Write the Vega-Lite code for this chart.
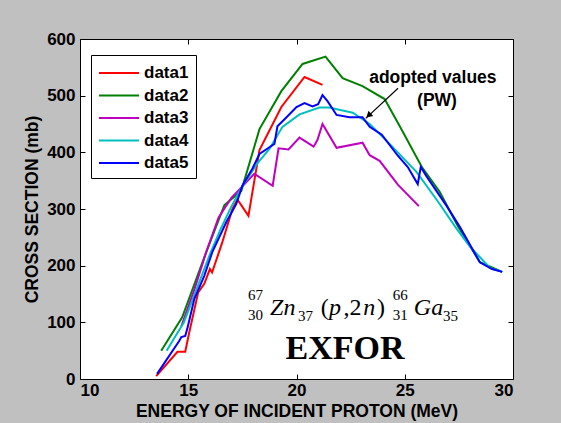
{
  "$schema": "https://vega.github.io/schema/vega-lite/v6.json",
  "width": 433,
  "height": 340,
  "autosize": "none",
  "padding": {"left": 80, "top": 39, "right": 48, "bottom": 44},
  "background": "#c0c0c0",
  "data": {"values": [{}]},
  "config": {
    "view": {"fill": "white", "stroke": "black", "strokeWidth": 1},
    "axis": {"labelFont": "Liberation Sans", "labelFontWeight": "bold", "labelFontSize": 17, "labelColor": "black",
             "titleFont": "Liberation Sans", "titleFontWeight": "bold", "titleFontSize": 17.5, "titleColor": "black",
             "domain": false, "tickColor": "black", "grid": false, "tickSize": 5, "offset": -5, "labelPadding": 5}
  },
  "datasets": {
    "curves": [
      {"series": "data1", "e": 13.52, "xs": 5}, {"series": "data1", "e": 14.5, "xs": 48}, {"series": "data1", "e": 14.86, "xs": 48},
      {"series": "data1", "e": 15.05, "xs": 83}, {"series": "data1", "e": 15.46, "xs": 153}, {"series": "data1", "e": 15.74, "xs": 168},
      {"series": "data1", "e": 16.0, "xs": 194}, {"series": "data1", "e": 16.1, "xs": 188}, {"series": "data1", "e": 16.57, "xs": 241},
      {"series": "data1", "e": 17.04, "xs": 300}, {"series": "data1", "e": 17.27, "xs": 317}, {"series": "data1", "e": 17.78, "xs": 288},
      {"series": "data1", "e": 18.29, "xs": 404}, {"series": "data1", "e": 19.3, "xs": 480}, {"series": "data1", "e": 20.37, "xs": 533},
      {"series": "data1", "e": 21.2, "xs": 519},

      {"series": "data2", "e": 13.75, "xs": 50}, {"series": "data2", "e": 14.72, "xs": 109}, {"series": "data2", "e": 15.83, "xs": 224},
      {"series": "data2", "e": 16.67, "xs": 307}, {"series": "data2", "e": 17.45, "xs": 332}, {"series": "data2", "e": 18.29, "xs": 441},
      {"series": "data2", "e": 19.3, "xs": 508}, {"series": "data2", "e": 20.28, "xs": 556}, {"series": "data2", "e": 21.34, "xs": 569},
      {"series": "data2", "e": 22.13, "xs": 531}, {"series": "data2", "e": 23.05, "xs": 517}, {"series": "data2", "e": 24.07, "xs": 494},
      {"series": "data2", "e": 24.77, "xs": 446}, {"series": "data2", "e": 25.79, "xs": 374}, {"series": "data2", "e": 26.62, "xs": 330},
      {"series": "data2", "e": 27.45, "xs": 270}, {"series": "data2", "e": 28.47, "xs": 206}, {"series": "data2", "e": 29.03, "xs": 197},
      {"series": "data2", "e": 29.5, "xs": 189},

      {"series": "data3", "e": 14.68, "xs": 93}, {"series": "data3", "e": 15.3, "xs": 160}, {"series": "data3", "e": 15.83, "xs": 224},
      {"series": "data3", "e": 16.4, "xs": 285}, {"series": "data3", "e": 17.0, "xs": 320}, {"series": "data3", "e": 17.5, "xs": 340},
      {"series": "data3", "e": 18.05, "xs": 362}, {"series": "data3", "e": 18.9, "xs": 341}, {"series": "data3", "e": 19.17, "xs": 407},
      {"series": "data3", "e": 19.63, "xs": 405}, {"series": "data3", "e": 20.14, "xs": 426}, {"series": "data3", "e": 20.79, "xs": 410},
      {"series": "data3", "e": 20.97, "xs": 422}, {"series": "data3", "e": 21.2, "xs": 450}, {"series": "data3", "e": 21.85, "xs": 408},
      {"series": "data3", "e": 23.05, "xs": 417}, {"series": "data3", "e": 23.38, "xs": 395}, {"series": "data3", "e": 23.84, "xs": 385},
      {"series": "data3", "e": 24.68, "xs": 343}, {"series": "data3", "e": 25.65, "xs": 305},

      {"series": "data4", "e": 14.0, "xs": 50}, {"series": "data4", "e": 14.8, "xs": 100}, {"series": "data4", "e": 15.5, "xs": 170},
      {"series": "data4", "e": 16.0, "xs": 220}, {"series": "data4", "e": 16.5, "xs": 265}, {"series": "data4", "e": 17.0, "xs": 305},
      {"series": "data4", "e": 17.5, "xs": 340}, {"series": "data4", "e": 18.2, "xs": 381}, {"series": "data4", "e": 18.75, "xs": 406},
      {"series": "data4", "e": 19.35, "xs": 445}, {"series": "data4", "e": 20.14, "xs": 467}, {"series": "data4", "e": 21.06, "xs": 479},
      {"series": "data4", "e": 21.5, "xs": 479}, {"series": "data4", "e": 22.6, "xs": 470}, {"series": "data4", "e": 23.38, "xs": 450},
      {"series": "data4", "e": 24.3, "xs": 415}, {"series": "data4", "e": 25.55, "xs": 365}, {"series": "data4", "e": 26.5, "xs": 315},
      {"series": "data4", "e": 27.4, "xs": 265}, {"series": "data4", "e": 28.0, "xs": 234}, {"series": "data4", "e": 28.94, "xs": 196},
      {"series": "data4", "e": 29.5, "xs": 189},

      {"series": "data5", "e": 13.56, "xs": 9}, {"series": "data5", "e": 14.58, "xs": 67}, {"series": "data5", "e": 14.68, "xs": 74},
      {"series": "data5", "e": 14.86, "xs": 76}, {"series": "data5", "e": 14.95, "xs": 88}, {"series": "data5", "e": 15.28, "xs": 141},
      {"series": "data5", "e": 15.74, "xs": 182}, {"series": "data5", "e": 16.11, "xs": 224}, {"series": "data5", "e": 16.76, "xs": 277},
      {"series": "data5", "e": 17.22, "xs": 309}, {"series": "data5", "e": 17.5, "xs": 341}, {"series": "data5", "e": 17.96, "xs": 371},
      {"series": "data5", "e": 18.29, "xs": 397}, {"series": "data5", "e": 18.75, "xs": 409}, {"series": "data5", "e": 18.98, "xs": 415},
      {"series": "data5", "e": 19.12, "xs": 446}, {"series": "data5", "e": 19.54, "xs": 462}, {"series": "data5", "e": 20.0, "xs": 480},
      {"series": "data5", "e": 20.37, "xs": 487}, {"series": "data5", "e": 20.74, "xs": 481}, {"series": "data5", "e": 21.0, "xs": 485},
      {"series": "data5", "e": 21.2, "xs": 501}, {"series": "data5", "e": 21.44, "xs": 490}, {"series": "data5", "e": 21.85, "xs": 466},
      {"series": "data5", "e": 22.45, "xs": 462}, {"series": "data5", "e": 23.05, "xs": 462}, {"series": "data5", "e": 23.38, "xs": 445},
      {"series": "data5", "e": 23.94, "xs": 431}, {"series": "data5", "e": 24.68, "xs": 394}, {"series": "data5", "e": 25.14, "xs": 374},
      {"series": "data5", "e": 25.6, "xs": 344}, {"series": "data5", "e": 25.74, "xs": 374}, {"series": "data5", "e": 26.0, "xs": 358},
      {"series": "data5", "e": 26.94, "xs": 305}, {"series": "data5", "e": 27.55, "xs": 268}, {"series": "data5", "e": 28.47, "xs": 206},
      {"series": "data5", "e": 29.03, "xs": 194}, {"series": "data5", "e": 29.5, "xs": 189}
    ]
  },
  "layer": [
    {
      "data": {"name": "curves"},
      "mark": {"type": "line", "opacity": 0},
      "encoding": {
        "x": {"field": "e", "type": "quantitative", "scale": {"domain": [10, 30], "nice": false},
              "axis": {"orient": "top", "labels": false, "title": null, "values": [10, 15, 20, 25, 30]}},
        "y": {"field": "xs", "type": "quantitative", "scale": {"domain": [0, 600], "nice": false},
              "axis": {"orient": "right", "labels": false, "title": null, "values": [0, 100, 200, 300, 400, 500, 600]}},
        "detail": {"field": "series"}
      }
    },
    {
      "data": {"name": "curves"},
      "mark": {"type": "line", "strokeWidth": 2},
      "encoding": {
        "x": {"field": "e", "type": "quantitative", "scale": {"domain": [10, 30], "nice": false},
              "axis": {"orient": "bottom", "title": "ENERGY OF INCIDENT PROTON (MeV)", "values": [10, 15, 20, 25, 30], "labelPadding": 3, "titlePadding": 4}},
        "y": {"field": "xs", "type": "quantitative", "scale": {"domain": [0, 600], "nice": false},
              "axis": {"orient": "left", "title": "CROSS SECTION (mb)", "values": [0, 100, 200, 300, 400, 500, 600], "titlePadding": 5}},
        "color": {"field": "series", "type": "nominal",
                  "scale": {"domain": ["data1", "data2", "data3", "data4", "data5"], "range": ["#ff0000", "#008000", "#bf00bf", "#00bfbf", "#0000ff"]},
                  "legend": {"orient": "none", "legendX": 11, "legendY": 16, "title": null, "strokeColor": "black", "fillColor": "white",
                             "padding": 7, "symbolType": "M-1,0H3", "symbolSize": 400, "symbolStrokeWidth": 2,
                             "labelOffset": 24,
                             "labelFont": "Liberation Sans", "labelFontWeight": "bold", "labelFontSize": 17, "labelColor": "black",
                             "rowPadding": 3.5, "symbolOffset": 0}}
      }
    },
    {"mark": {"type": "rule", "color": "black", "strokeWidth": 1.2},
     "encoding": {"x": {"datum": 24.69, "axis": null}, "y": {"datum": 513, "axis": null}, "x2": {"datum": 23.2}, "y2": {"datum": 460}}},
    {"mark": {"type": "point", "shape": "triangle-up", "filled": true, "color": "black", "size": 50, "angle": 227, "opacity": 1},
     "encoding": {"x": {"datum": 23.33, "axis": null}, "y": {"datum": 465, "axis": null}}},
    {"mark": {"type": "text", "font": "Liberation Sans", "fontWeight": "bold", "fontSize": 17.5, "align": "center", "baseline": "alphabetic"},
     "encoding": {"x": {"datum": 26.3, "axis": null}, "y": {"datum": 522, "axis": null}, "text": {"value": "adopted values"}}},
    {"mark": {"type": "text", "font": "Liberation Sans", "fontWeight": "bold", "fontSize": 17.5, "align": "center", "baseline": "alphabetic"},
     "encoding": {"x": {"datum": 26.49, "axis": null}, "y": {"datum": 482, "axis": null}, "text": {"value": "(PW)"}}},
    {"mark": {"type": "text", "font": "Liberation Serif", "fontWeight": "bold", "fontSize": 34, "align": "center", "baseline": "alphabetic"},
     "encoding": {"x": {"datum": 22.24, "axis": null}, "y": {"datum": 35, "axis": null}, "text": {"value": "EXFOR"}}},
    {"mark": {"type": "text", "font": "Liberation Serif", "fontSize": 15, "align": "left", "baseline": "alphabetic"},
     "encoding": {"x": {"datum": 17.76, "axis": null}, "y": {"datum": 139, "axis": null}, "text": {"value": "67"}}},
    {"mark": {"type": "text", "font": "Liberation Serif", "fontSize": 15, "align": "left", "baseline": "alphabetic"},
     "encoding": {"x": {"datum": 17.76, "axis": null}, "y": {"datum": 104, "axis": null}, "text": {"value": "30"}}},
    {"mark": {"type": "text", "font": "Liberation Serif", "fontStyle": "italic", "fontSize": 24, "align": "left", "baseline": "alphabetic"},
     "encoding": {"x": {"datum": 18.78, "axis": null}, "y": {"datum": 113, "axis": null}, "text": {"value": "Zn"}}},
    {"mark": {"type": "text", "font": "Liberation Serif", "fontSize": 15, "align": "left", "baseline": "alphabetic"},
     "encoding": {"x": {"datum": 20.07, "axis": null}, "y": {"datum": 102, "axis": null}, "text": {"value": "37"}}},
    {"mark": {"type": "text", "font": "Liberation Serif", "fontSize": 24, "align": "left", "baseline": "alphabetic"},
     "encoding": {"x": {"datum": 21.12, "axis": null}, "y": {"datum": 113, "axis": null}, "text": {"value": "("}}},
    {"mark": {"type": "text", "font": "Liberation Serif", "fontStyle": "italic", "fontSize": 24, "align": "left", "baseline": "alphabetic"},
     "encoding": {"x": {"datum": 21.5, "axis": null}, "y": {"datum": 113, "axis": null}, "text": {"value": "p"}}},
    {"mark": {"type": "text", "font": "Liberation Serif", "fontSize": 24, "align": "left", "baseline": "alphabetic"},
     "encoding": {"x": {"datum": 22.17, "axis": null}, "y": {"datum": 113, "axis": null}, "text": {"value": ",2"}}},
    {"mark": {"type": "text", "font": "Liberation Serif", "fontStyle": "italic", "fontSize": 24, "align": "left", "baseline": "alphabetic"},
     "encoding": {"x": {"datum": 23.08, "axis": null}, "y": {"datum": 113, "axis": null}, "text": {"value": "n"}}},
    {"mark": {"type": "text", "font": "Liberation Serif", "fontSize": 24, "align": "left", "baseline": "alphabetic"},
     "encoding": {"x": {"datum": 23.72, "axis": null}, "y": {"datum": 113, "axis": null}, "text": {"value": ")"}}},
    {"mark": {"type": "text", "font": "Liberation Serif", "fontSize": 15, "align": "left", "baseline": "alphabetic"},
     "encoding": {"x": {"datum": 24.45, "axis": null}, "y": {"datum": 139, "axis": null}, "text": {"value": "66"}}},
    {"mark": {"type": "text", "font": "Liberation Serif", "fontSize": 15, "align": "left", "baseline": "alphabetic"},
     "encoding": {"x": {"datum": 24.45, "axis": null}, "y": {"datum": 104, "axis": null}, "text": {"value": "31"}}},
    {"mark": {"type": "text", "font": "Liberation Serif", "fontStyle": "italic", "fontSize": 24, "align": "left", "baseline": "alphabetic"},
     "encoding": {"x": {"datum": 25.42, "axis": null}, "y": {"datum": 113, "axis": null}, "text": {"value": "Ga"}}},
    {"mark": {"type": "text", "font": "Liberation Serif", "fontSize": 15, "align": "left", "baseline": "alphabetic"},
     "encoding": {"x": {"datum": 26.77, "axis": null}, "y": {"datum": 102, "axis": null}, "text": {"value": "35"}}}
  ],
  "resolve": {"axis": {"x": "independent", "y": "independent"}}
}
